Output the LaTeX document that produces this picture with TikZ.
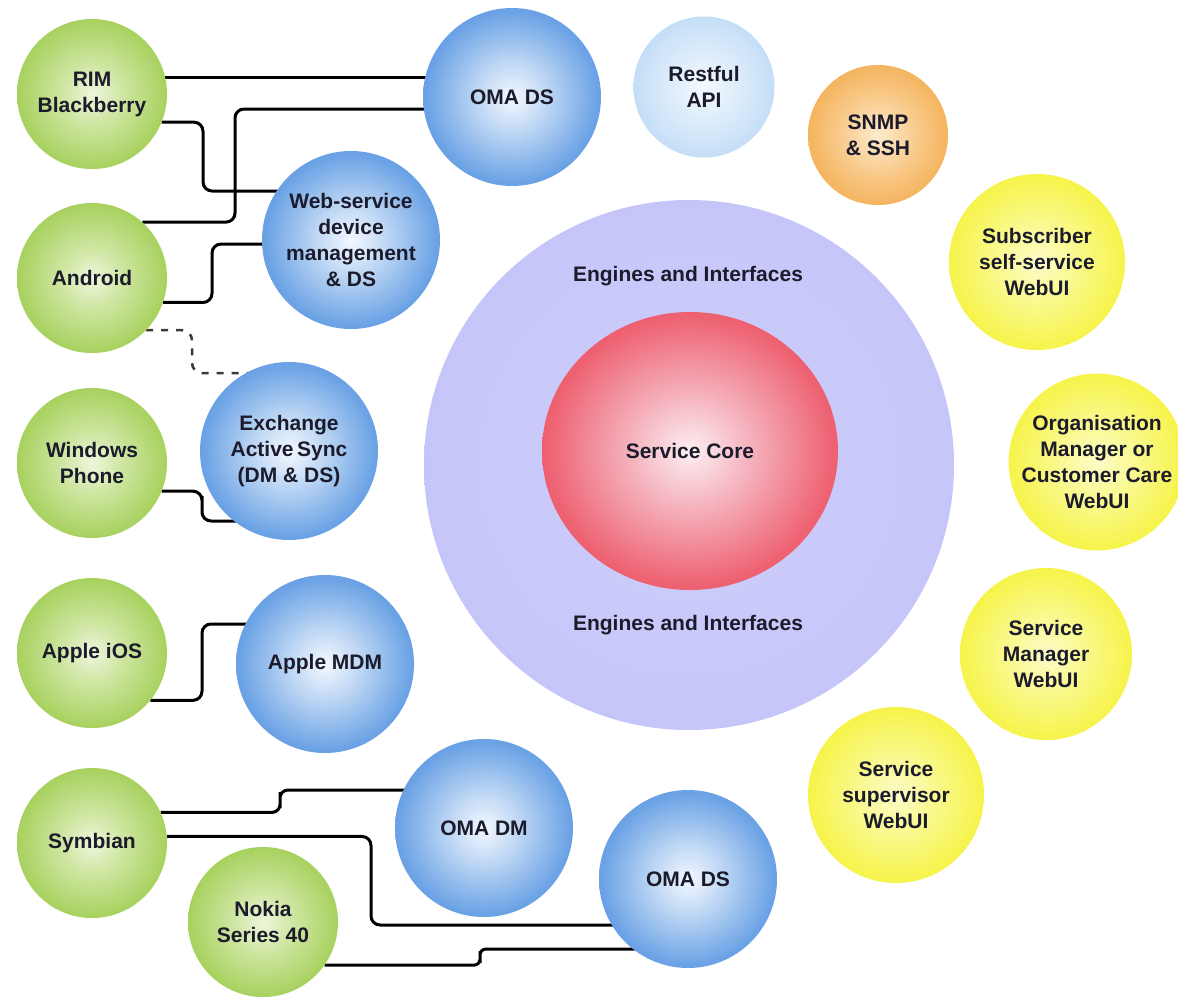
\documentclass[tikz,border=0pt]{standalone}
\usepackage{fontspec}
\setmainfont{Liberation Sans}
\usetikzlibrary{shapes.geometric,calc}
\pgfdeclarelayer{bg}
\pgfsetlayers{bg,main}
% colours
\definecolor{txt}{HTML}{1B1B2B}
\definecolor{gA}{HTML}{EEF6DC}\definecolor{gB}{HTML}{CFE6A2}\definecolor{gC}{HTML}{A7D15E}\definecolor{gD}{HTML}{96C447}
\definecolor{bA}{HTML}{F4F8FF}\definecolor{bB}{HTML}{C3DAF5}\definecolor{bC}{HTML}{6CA3E5}\definecolor{bD}{HTML}{4086D9}\definecolor{bE}{HTML}{3676CA}
\definecolor{lA}{HTML}{F4F9FE}\definecolor{lB}{HTML}{D2E6F9}\definecolor{lC}{HTML}{A6CDF1}\definecolor{lD}{HTML}{98C4EE}
\definecolor{oA}{HTML}{FDEBCD}\definecolor{oB}{HTML}{F8C886}\definecolor{oC}{HTML}{F2A643}\definecolor{oD}{HTML}{EE9B2E}
\definecolor{yA}{HTML}{FCFCC8}\definecolor{yB}{HTML}{F9F880}\definecolor{yC}{HTML}{F5F23A}\definecolor{yD}{HTML}{F0EC20}
\definecolor{vA}{HTML}{D0D0FB}\definecolor{vB}{HTML}{C4C4F9}\definecolor{vC}{HTML}{B2B2F5}\definecolor{vD}{HTML}{A2A2ED}
\definecolor{rA}{HTML}{FCEFF2}\definecolor{rB}{HTML}{F5B3BE}\definecolor{rC}{HTML}{EE6373}\definecolor{rD}{HTML}{EA3A48}\definecolor{rE}{HTML}{E62E3A}
\definecolor{dashc}{HTML}{3A3A3A}
\pgfdeclareradialshading{greensh}{\pgfpoint{0bp}{0bp}}{color(0bp)=(gA); color(10bp)=(gB); color(25bp)=(gC); color(50bp)=(gD)}
\pgfdeclareradialshading{bluesh}{\pgfpoint{0bp}{0bp}}{color(0bp)=(bA); color(9bp)=(bB); color(24bp)=(bC); color(38bp)=(bD); color(50bp)=(bE)}
\pgfdeclareradialshading{lbluesh}{\pgfpoint{0bp}{0bp}}{color(0bp)=(lA); color(18bp)=(lB); color(40bp)=(lC); color(50bp)=(lD)}
\pgfdeclareradialshading{orangesh}{\pgfpoint{0bp}{0bp}}{color(0bp)=(oA); color(15bp)=(oB); color(32bp)=(oC); color(50bp)=(oD)}
\pgfdeclareradialshading{yellowsh}{\pgfpoint{0bp}{0bp}}{color(0bp)=(yA); color(14bp)=(yB); color(28bp)=(yC); color(50bp)=(yD)}
\pgfdeclareradialshading{lavsh}{\pgfpoint{0bp}{0bp}}{color(0bp)=(vA); color(28bp)=(vB); color(42bp)=(vC); color(50bp)=(vD)}
\pgfdeclareradialshading{redsh}{\pgfpoint{0bp}{0bp}}{color(0bp)=(rA); color(10bp)=(rB); color(24bp)=(rC); color(36bp)=(rD); color(50bp)=(rE)}
\tikzset{
  bub/.style={circle, inner sep=0pt, align=center, text=txt,
    font=\bfseries\fontsize{21}{26}\selectfont},
  devnode/.style={bub, minimum size=150pt, shading=greensh},
  protonode/.style={bub, minimum size=178pt, shading=bluesh},
  apinode/.style={bub, minimum size=141pt, shading=lbluesh},
  snmpnode/.style={bub, minimum size=140pt, shading=orangesh},
  uinode/.style={bub, minimum size=176pt, shading=yellowsh},
  conn/.style={line width=3pt, rounded corners=9pt},
  dashconn/.style={line width=2.5pt, dashc, dash pattern=on 7pt off 8pt, rounded corners=10pt},
}
\begin{document}
\begin{tikzpicture}[x=1pt,y=-1pt]
\useasboundingbox (0,0) rectangle (1178,999);
\begin{pgfonlayer}{bg}
\fill[white] (0,0) rectangle (1178,999);
\end{pgfonlayer}

% engines and core
\node[circle, minimum size=530pt, inner sep=0pt, shading=lavsh] (eng) at (689,465) {};
\node[ellipse, minimum width=296pt, minimum height=278pt, inner sep=0pt, shading=redsh,
      text=txt, font=\bfseries\fontsize{21}{26}\selectfont] (core) at (690,451) {Service Core};
\node[text=txt, font=\bfseries\fontsize{21}{26}\selectfont] (engtop) at (688,276) {Engines and Interfaces};
\node[text=txt, font=\bfseries\fontsize{21}{26}\selectfont] (engbot) at (688,625) {Engines and Interfaces};

% devices
\node[devnode] (rim) at (92,94) {RIM\\Blackberry};
\node[devnode] (android) at (92,278) {Android};
\node[devnode] (windows) at (92,463) {Windows\\Phone};
\node[devnode] (ios) at (92,653) {Apple iOS};
\node[devnode] (symbian) at (92,843) {Symbian};
\node[devnode] (nokia) at (263,922) {Nokia\\Series 40};

% protocols
\node[protonode] (omads1) at (512,97) {OMA DS};
\node[protonode] (web) at (351,240) {Web-service\\device\\management\\\& DS};
\node[protonode] (exch) at (289,451) {Exchange\\Active\,Sync\\(DM \& DS)};
\node[protonode] (mdm) at (325,664) {Apple MDM};
\node[protonode] (omadm) at (484,828) {OMA DM};
\node[protonode] (omads2) at (688,879) {OMA DS};

% interfaces
\node[apinode] (rest) at (704,87) {Restful\\API};
\node[snmpnode] (snmp) at (878,135) {SNMP\\\& SSH};
\node[uinode] (subs) at (1037,262) {Subscriber\\self-service\\WebUI};
\node[uinode, minimum size=170pt] (org) at (1097,462) {Organisation\\Manager or\\Customer Care\\WebUI};
\node[uinode, minimum size=172pt] (smgr) at (1046,654) {Service\\Manager\\WebUI};
\node[uinode] (ssup) at (896,795) {Service\\supervisor\\WebUI};

% connectors
\begin{pgfonlayer}{bg}
\draw[conn] (rim.13) -- (rim.13 -| omads1.center);
\draw[conn] ([yshift=-12pt]omads1.center) -| (235,165) |- (android.48);
\draw[conn] (rim.-22) -| (203,160) |- ([yshift=49pt]web.center);
\draw[conn] (android.-19.5) -| (212,270) |- ([yshift=-4pt]web.center);
\draw[dashconn] (android.-44.5) -| (192,350) |- ([yshift=78pt]exch.center);
\draw[conn] (windows.-22) -| (202,505) |- ([yshift=-70pt]exch.center);
\draw[conn] (ios.-39) -| (202,660) |- ([yshift=40pt]mdm.center);
\draw[conn, rounded corners=8pt] (symbian.24) -| (280,800) |- ([yshift=38pt]omadm.center);
\draw[conn] (symbian.5) -| (371,880) |- ([yshift=-46pt]omads2.center);
\draw[conn, rounded corners=6pt] (nokia.-35) -| (480,957) |- ([yshift=-70pt]omads2.center);
\end{pgfonlayer}
\end{tikzpicture}
\end{document}
